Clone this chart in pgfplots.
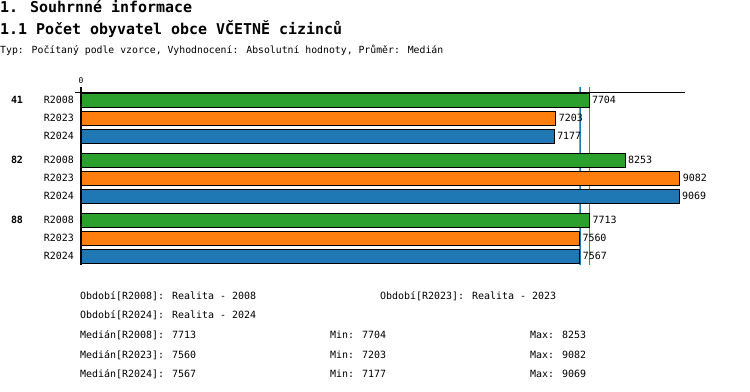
\documentclass[border=0pt]{standalone}
\usepackage{pgfplots}
\pgfplotsset{compat=1.18}
\usepackage{fontspec}
\setmonofont{DejaVu Sans Mono}
\newfontfamily\mono{DejaVu Sans Mono}
\definecolor{cg}{HTML}{2CA02C}
\definecolor{co}{HTML}{FF7F0E}
\definecolor{cb}{HTML}{1F77B4}
\newcommand{\ft}{\mono\bfseries\fontsize{15}{15}\selectfont}
\newcommand{\fs}{\mono\fontsize{10}{10}\selectfont}
\newcommand{\fb}{\mono\bfseries\fontsize{10}{10}\selectfont}
\begin{document}
\begin{tikzpicture}
\path (0bp,0bp) rectangle (750bp,392bp);
\node[anchor=base west, inner sep=0, font=\ft] at (0bp,379bp) {1. Souhrnné informace};
\node[anchor=base west, inner sep=0, font=\ft] at (0bp,357bp) {1.1 Počet obyvatel obce VČETNĚ cizinců};
\node[anchor=base west, inner sep=0, font=\mono\fontsize{9.85}{10}\selectfont] at (0bp,338bp) {Typ: Počítaný podle vzorce, Vyhodnocení: Absolutní hodnoty, Průměr: Medián};
\begin{axis}[at={(81bp,127bp)}, anchor=south west, scale only axis,
  width=604bp, height=178bp, xmin=0, xmax=9160, ymin=87, ymax=265, y dir=reverse,
  axis line style={draw=none}, xtick=\empty,
  ytick={100,118,136,160,178,196,220,238,256},
  yticklabels={R2008,R2023,R2024,R2008,R2023,R2024,R2008,R2023,R2024},
  major tick length=0pt,
  yticklabel style={font=\fs, inner sep=0pt, xshift=-7bp},
  clip=false,
  /pgf/number format/.cd, 1000 sep={}, assume math mode=true]
\addplot[draw=co, line width=0.8bp] coordinates {(7560,87) (7560,265)};
\addplot[draw=cb, line width=0.8bp] coordinates {(7567,87) (7567,265)};
\addplot[draw=cg, line width=0.8bp] coordinates {(7713,87) (7713,265)};
\addplot[xbar, bar width=14, bar shift=0pt, fill=cg, draw=black, line width=1bp,
  nodes near coords, every node near coord/.append style={font=\fs, anchor=west, inner sep=2.5bp}]
  coordinates {(7704,100) (8253,160) (7713,220)};
\addplot[xbar, bar width=14, bar shift=0pt, fill=co, draw=black, line width=1bp,
  nodes near coords, every node near coord/.append style={font=\fs, anchor=west, inner sep=2.5bp}]
  coordinates {(7203,118) (9082,178) (7560,238)};
\addplot[xbar, bar width=14, bar shift=0pt, fill=cb, draw=black, line width=1bp,
  nodes near coords, every node near coord/.append style={font=\fs, anchor=west, inner sep=2.5bp}]
  coordinates {(7177,136) (9069,196) (7567,256)};
\draw[line width=1bp] ([xshift=-6bp]axis cs:0,92) -- (axis cs:9160,92);
\draw[line width=1.6bp] (axis cs:0,87) -- (axis cs:0,265);
\end{axis}
\node[anchor=base, inner sep=0, font=\mono\fontsize{8}{8}\selectfont] at (81bp,308.5bp) {0};
\node[anchor=base, inner sep=0, font=\fb] at (17bp,288.5bp) {41};
\node[anchor=base, inner sep=0, font=\fb] at (17bp,228.5bp) {82};
\node[anchor=base, inner sep=0, font=\fb] at (17bp,168.5bp) {88};
\begin{scope}[every node/.style={anchor=base west, inner sep=0, font=\fs}]
\node at (80bp,92.5bp) {Období[R2008]: Realita - 2008};
\node at (380bp,92.5bp) {Období[R2023]: Realita - 2023};
\node at (80bp,73bp) {Období[R2024]: Realita - 2024};
\node at (80bp,53.5bp) {Medián[R2008]: 7713};
\node at (330bp,53.5bp) {Min: 7704};
\node at (530bp,53.5bp) {Max: 8253};
\node at (80bp,34bp) {Medián[R2023]: 7560};
\node at (330bp,34bp) {Min: 7203};
\node at (530bp,34bp) {Max: 9082};
\node at (80bp,14.5bp) {Medián[R2024]: 7567};
\node at (330bp,14.5bp) {Min: 7177};
\node at (530bp,14.5bp) {Max: 9069};
\end{scope}
\end{tikzpicture}
\end{document}
